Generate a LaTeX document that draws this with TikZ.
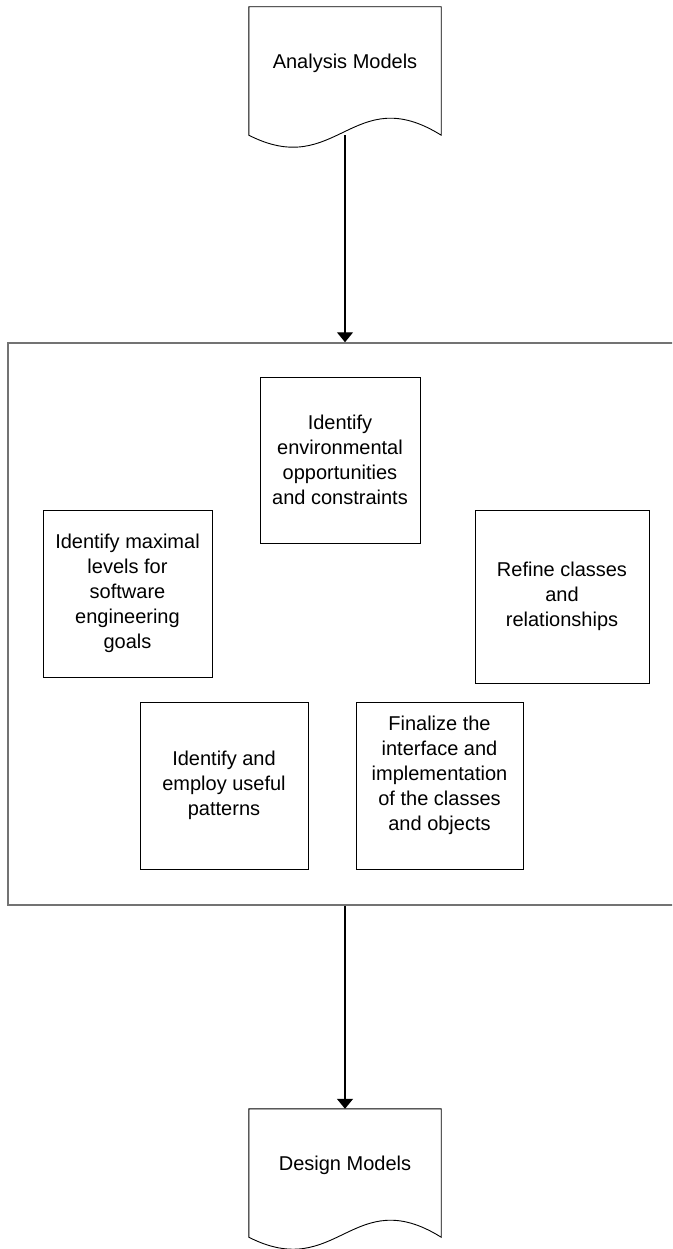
\documentclass[tikz,border=0pt]{standalone}
\usepackage{fontspec}
\setmainfont{Liberation Sans}
\usetikzlibrary{arrows.meta,calc}
\begin{document}
\begin{tikzpicture}[x=1pt,y=-1pt,
  font=\fontsize{20}{25}\selectfont,
  stepbox/.style={draw=black, line width=0.9pt, align=center, inner sep=0pt},
  docbox/.style={inner sep=0pt, minimum width=192pt, minimum height=128pt},
  docline/.style={draw=black, line width=0.9pt},
  flow/.style={draw=black, line width=1.3pt, -{Triangle[width=16pt,length=10pt]}},
  frame/.style={draw=black!55, line width=1.5pt, inner sep=0pt}]
\useasboundingbox (0,0) rectangle (672,1249);
\clip (0,0) rectangle (672,1249);

% enclosing activity frame
\node[frame, minimum width=682pt, minimum height=562pt] (big) at (349,624) {};

% input and output documents
\node[docbox, label={[yshift=8pt]center:Analysis Models}] (doc1) at (345,71) {};
\node[docbox, label={[yshift=8pt]center:Design Models}] (doc2) at (345,1173) {};
\foreach \d in {doc1,doc2}{
  \draw[docline] (\d.south west) -- (\d.north west) -- (\d.north east) -- (\d.south east)
    .. controls ($(\d.south)+(8,-55)$) and ($(\d.south)+(-8,45)$) .. (\d.south west) -- cycle;
}

% design activities
\node[stepbox, minimum width=160pt, minimum height=166pt] (envir) at (340,460)
  {Identify\\environmental\\opportunities\\and constraints};
\node[stepbox, minimum width=169pt, minimum height=167pt] (maxlev) at (127.5,593.5)
  {Identify maximal\\levels for\\software\\engineering\\goals};
\node[stepbox, minimum width=174pt, minimum height=173pt] (refine) at (562,596.5)
  {Refine classes\\and\\relationships};
\node[stepbox, minimum width=168pt, minimum height=167pt] (patterns) at (224,785.5)
  {Identify and\\employ useful\\patterns};
\node[stepbox, minimum width=167pt, minimum height=167pt,
  label={[align=center, yshift=10pt]center:Finalize the\\interface and\\implementation\\of the classes\\and objects}]
  (finalize) at (439.5,785.5) {};

% flow between documents and the frame
\draw[flow] (doc1.south) -- (big.north -| doc1.south);
\draw[flow] (big.south -| doc2.north) -- (doc2.north);
\end{tikzpicture}
\end{document}
